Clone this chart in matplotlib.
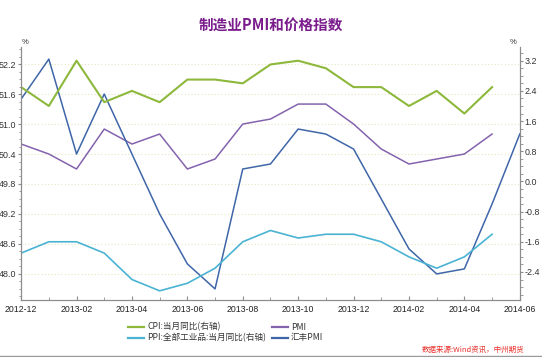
import matplotlib
matplotlib.use("Agg")
import matplotlib.pyplot as plt
from matplotlib.ticker import MultipleLocator, AutoMinorLocator, FormatStrFormatter
import numpy as np

plt.rcParams['font.family'] = ['Liberation Sans', 'Noto Sans CJK SC', 'DejaVu Sans']

months = ["2012-12", "2013-01", "2013-02", "2013-03", "2013-04", "2013-05", "2013-06",
          "2013-07", "2013-08", "2013-09", "2013-10", "2013-11", "2013-12", "2014-01",
          "2014-02", "2014-03", "2014-04", "2014-05", "2014-06"]
cpi = [2.5, 2.0, 3.2, 2.1, 2.4, 2.1, 2.7, 2.7, 2.6, 3.1, 3.2, 3.0, 2.5, 2.5, 2.0, 2.4, 1.8, 2.5]
ppi = [-1.9, -1.6, -1.6, -1.9, -2.6, -2.9, -2.7, -2.3, -1.6, -1.3, -1.5, -1.4, -1.4, -1.6,
       -2.0, -2.3, -2.0, -1.4]
pmi = [50.6, 50.4, 50.1, 50.9, 50.6, 50.8, 50.1, 50.3, 51.0, 51.1, 51.4, 51.4, 51.0, 50.5,
       50.2, 50.3, 50.4, 50.8]
hsbc = [51.5, 52.3, 50.4, 51.6, 50.4, 49.2, 48.2, 47.7, 50.1, 50.2, 50.9, 50.8, 50.5, 49.5,
        48.5, 48.0, 48.1, 49.4, 50.8]
xtick_labels = months[::2]
legend_labels = ["CPI:当月同比(右轴)", "PPI:全部工业品:当月同比(右轴)", "PMI", "汇丰PMI"]

c_cpi = "#8DB83C"
c_ppi = "#4AB3D3"
c_pmi = "#8463AE"
c_hsbc = "#3F66A8"
grey = "#8C8C8C"

W, H = 542, 357
fig = plt.figure(figsize=(5.42, 3.57), dpi=100)
ax = fig.add_axes([0.039, 0.160, 0.920, 0.708])
ax2 = ax.twinx()

x_all = np.arange(len(months))
ax.plot(x_all[:len(pmi)], pmi, color=c_pmi, lw=1.1)
ax.plot(x_all[:len(hsbc)], hsbc, color=c_hsbc, lw=1.1)
ax2.plot(x_all[:len(cpi)], cpi, color=c_cpi, lw=1.5)
ax2.plot(x_all[:len(ppi)], ppi, color=c_ppi, lw=1.2)

ax.set_xlim(0, len(months) - 1)
ax.set_ylim(47.48, 52.54)
ax2.set_ylim(-3.14, 3.56)

ax.set_yticks(np.arange(48.0, 52.21, 0.6))
ax.yaxis.set_major_formatter(FormatStrFormatter('%.1f'))
ax.yaxis.set_minor_locator(AutoMinorLocator(4))
ax2.set_yticks(np.arange(-2.4, 3.21, 0.8))
ax2.yaxis.set_major_formatter(FormatStrFormatter('%.1f'))
ax2.yaxis.set_minor_locator(AutoMinorLocator(4))

ax.set_xticks(x_all[::2])
ax.set_xticklabels(xtick_labels)
ax.xaxis.set_minor_locator(MultipleLocator(1))

for yv in np.arange(48.0, 52.21, 0.6):
    ax.axhline(yv, color="#E6E6C0", lw=0.8, ls=(0, (1, 2)), zorder=0)

for a in (ax, ax2):
    for s in a.spines.values():
        s.set_color(grey)
    a.spines['top'].set_visible(False)
for a in (ax, ax2):
    a.tick_params(axis='y', which='both', direction='out', color=grey, labelsize=6.4,
                  labelcolor="#333333", pad=0.8)
    a.tick_params(axis='y', which='major', length=2.5)
    a.tick_params(axis='y', which='minor', length=1.8)
ax.tick_params(axis='x', which='both', direction='in', color=grey, labelsize=6.3,
               labelcolor="#222222", pad=3.5)
ax.tick_params(axis='x', which='major', length=3)
ax.tick_params(axis='x', which='minor', length=2)

fig.text(0.041, 0.872, "%", fontsize=5.5, color="#333333", ha='left', va='bottom')
fig.text(0.953, 0.872, "%", fontsize=5.5, color="#333333", ha='right', va='bottom')

fig.text(0.5, 0.927, "制造业PMI和价格指数", fontsize=10.5, fontweight='bold',
         color="#7A1C8C", ha='center', va='center', family=['Noto Sans CJK SC'])

# manual legend (positions in pixels)
leg_items = [
    (legend_labels[0], c_cpi, 128, 327),
    (legend_labels[1], c_ppi, 128, 337.6),
    (legend_labels[2], c_pmi, 272, 327),
    (legend_labels[3], c_hsbc, 272, 337.6),
]
for lab, col, px, py in leg_items:
    fig.add_artist(plt.Line2D([px / W, (px + 16) / W], [1 - py / H, 1 - py / H], color=col,
                              lw=1.6, transform=fig.transFigure))
    fig.text((px + 19) / W, 1 - py / H, lab, fontsize=6.2, color="#333333", ha='left',
             va='center', family=['Noto Sans CJK SC'])

fig.text(0.967, 1 - 350 / H, "数据来源:Wind资讯，中州期货", fontsize=5.4, color="#E8302A",
         ha='right', va='center', style='italic', family=['Noto Sans CJK SC'])
fig.add_artist(plt.Line2D([0, 1], [0.003, 0.003], color="#999999", lw=1,
                          transform=fig.transFigure))

fig.savefig("out.png", dpi=100)
